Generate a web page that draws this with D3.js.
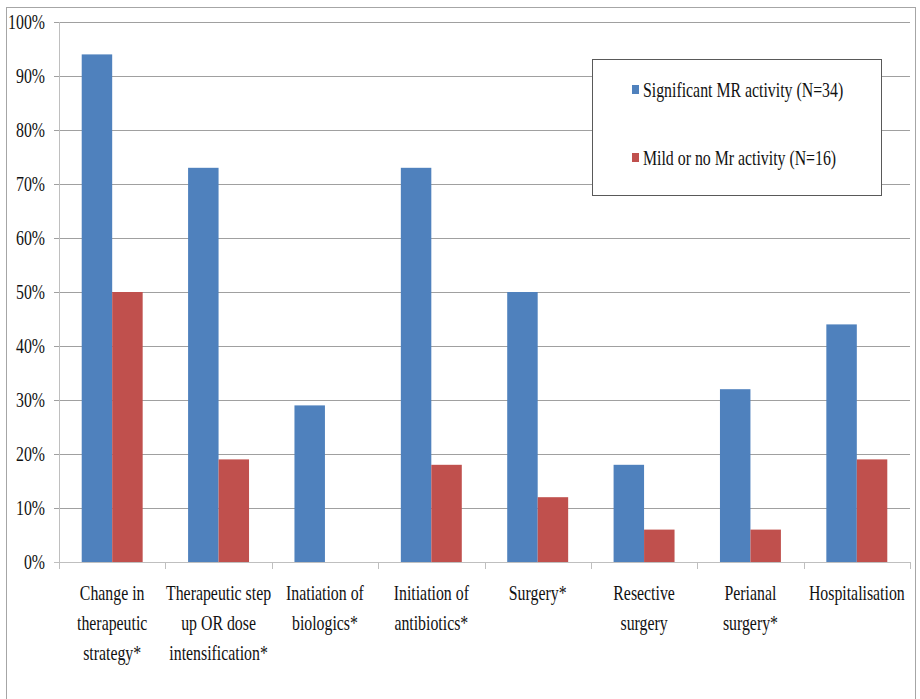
<!DOCTYPE html>
<html><head><meta charset="utf-8">
<script src="https://cdn.jsdelivr.net/npm/d3@7"></script>
<style>body{margin:0;background:#fff}svg{display:block}
text{font-family:"Liberation Serif","Times New Roman",Tinos,"DejaVu Serif",serif;}</style>
</head><body>
<svg id="c" width="920" height="699"></svg>
<script>
const categories = [
  ["Change in","therapeutic","strategy*"],
  ["Therapeutic step","up OR dose","intensification*"],
  ["Inatiation of","biologics*"],
  ["Initiation of","antibiotics*"],
  ["Surgery*"],
  ["Resective","surgery"],
  ["Perianal","surgery*"],
  ["Hospitalisation"]
];
const seriesNames = ["Significant MR activity (N=34)", "Mild or no Mr activity (N=16)"];
const significant = [94, 73, 29, 73, 50, 18, 32, 44];
const mild = [50, 19, 0, 18, 12, 6, 6, 19];
const yTicks = [0,10,20,30,40,50,60,70,80,90,100];
const colors = ["#4F81BD", "#C0504D"];

const svg = d3.select("#c");
const sx = 0.72, fs = 22, tc = "#111";

// outer border
svg.append("rect").attr("x",6.5).attr("y",7.5).attr("width",909).attr("height",720)
  .attr("fill","none").attr("stroke","#a6a6a6").attr("stroke-width",1);

const L = 59, R = 910, T = 22, B = 562;
const idx = d3.range(categories.length);
const x = d3.scaleBand().domain(idx).range([L, R]).paddingInner(0.427).paddingOuter(0.2135);
const xs = d3.scaleBand().domain([0,1]).range([0, x.bandwidth()]);
const y = d3.scaleLinear().domain([0,100]).range([B, T]);

// gridlines
svg.append("g").selectAll("line").data(yTicks.filter(d=>d>0)).join("line")
  .attr("x1", L-5).attr("x2", R).attr("y1", d=>Math.round(y(d))+0.5).attr("y2", d=>Math.round(y(d))+0.5)
  .attr("stroke","#a0a0a0").attr("stroke-width",1);
svg.append("line").attr("x1",L-5).attr("x2",L).attr("y1",Math.round(y(0))+0.5).attr("y2",Math.round(y(0))+0.5)
  .attr("stroke","#bfbfbf");

// y tick labels
svg.append("g").selectAll("text").data(yTicks).join("text")
  .attr("transform", d=>`translate(45,${y(d)+7}) scale(${sx},1)`)
  .attr("text-anchor","end").attr("font-size",fs).attr("fill",tc)
  .text(d=>d+"%");

// bars
const data = [significant, mild];
const g = svg.append("g");
data.forEach((vals, s) => {
  g.selectAll(null).data(vals).join("rect")
    .attr("x", (d,i)=>x(i)+xs(s)).attr("width", xs.bandwidth())
    .attr("y", d=>y(d)).attr("height", d=>y(0)-y(d))
    .attr("fill", colors[s]);
});

// axes lines
svg.append("line").attr("x1",L+0.5).attr("x2",L+0.5).attr("y1",T).attr("y2",B)
  .attr("stroke","#bfbfbf");
svg.append("line").attr("x1",L).attr("x2",R).attr("y1",Math.round(y(0))+0.5).attr("y2",Math.round(y(0))+0.5)
  .attr("stroke","#bfbfbf");
const step = x.step();
svg.append("g").selectAll("line").data(d3.range(categories.length+1)).join("line")
  .attr("x1", d=>Math.round(L + d*step)+0.5).attr("x2", d=>Math.round(L + d*step)+0.5)
  .attr("y1", B).attr("y2", B+7).attr("stroke","#bfbfbf");

// category labels
const lab = svg.append("g");
categories.forEach((lines, i) => {
  const cx = x(i) + x.bandwidth()/2;
  const t = lab.append("text").attr("transform",`translate(${cx},0) scale(${sx},1)`)
    .attr("text-anchor","middle").attr("font-size",fs).attr("fill",tc);
  lines.forEach((ln, j) => t.append("tspan").attr("x",0).attr("y", 600 + j*30).text(ln));
});

// legend
svg.append("rect").attr("x",592.5).attr("y",59.5).attr("width",289).attr("height",136)
  .attr("fill","#fff").attr("stroke","#595959").attr("stroke-width",1);
seriesNames.forEach((n, i) => {
  const yy = 97 + i*68;
  svg.append("rect").attr("x",632).attr("y",yy-12).attr("width",7).attr("height",9).attr("fill",colors[i]);
  svg.append("text").attr("transform",`translate(643,${yy}) scale(${sx},1)`)
    .attr("font-size",fs).attr("fill",tc).text(n);
});
</script>
</body></html>
